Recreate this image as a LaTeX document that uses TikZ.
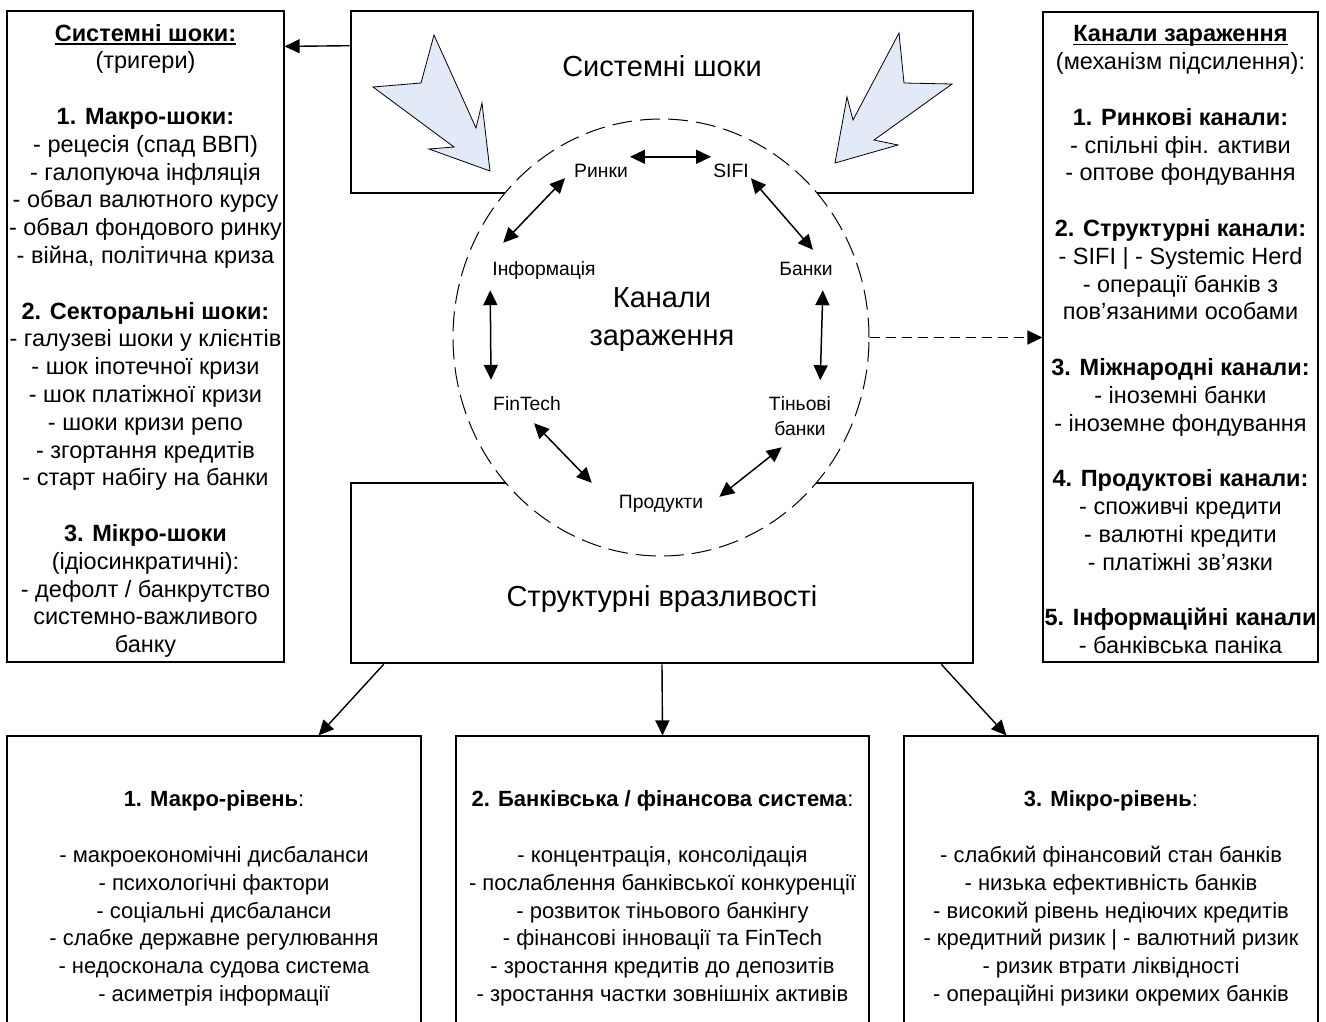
\documentclass[tikz,border=0pt]{standalone}
\usepackage{fontspec}
\setmainfont{Liberation Sans}
\usetikzlibrary{arrows.meta,shapes.geometric}

\definecolor{shockblue}{RGB}{226,234,247}
\newcommand{\ulhead}[1]{\leavevmode\setbox0\hbox{#1}\rlap{\rule[-3.5pt]{\wd0}{1.5pt}}\box0}

\begin{document}
\begin{tikzpicture}[x=1pt, y=-1pt, >={Triangle[length=15pt,width=14pt]},
    sidebox/.style={draw, line width=1.2pt, inner sep=0pt, align=center,
        font=\fontsize{23.5}{27.8}\selectfont},
    levelbox/.style={draw, line width=1.2pt, inner sep=0pt, align=center,
        minimum width=414pt, minimum height=325pt, font=\fontsize{22}{27.8}\selectfont},
    mainbox/.style={draw, line width=2.6pt, minimum width=622pt},
    big label/.style={font=\fontsize{29}{38}\selectfont, align=center},
    chan node/.style={font=\fontsize{19.3}{25}\selectfont, inner sep=2pt,
        text height=14pt, text depth=4pt},
    ring/.style={ellipse, draw, dash pattern=on 20pt off 8pt, line width=1pt,
        fill=white, inner sep=0pt, minimum width=416pt, minimum height=437pt},
    shock/.style={draw, line width=0.8pt, fill=shockblue, line join=miter},
    link/.style={<->, line width=1.5pt},
    arr/.style={->, line width=1.4pt},
    ]

\useasboundingbox (0,0) rectangle (1326,1021);
\clip (0,0) rectangle (1326,1021);

% side boxes
\node[sidebox, minimum width=277pt, minimum height=651pt] (triggers) at (145.5,336.5)
{\rule{0pt}{25.5pt}\ulhead{\textbf{Системні шоки:}}\\ (тригери)\\[27.8pt]
\textbf{1. Макро-шоки:}\\ - рецесія (спад ВВП)\\ - галопуюча інфляція\\
- обвал валютного курсу\\ - обвал фондового ринку\\ - війна, політична криза\\[27.8pt]
\textbf{2. Секторальні шоки:}\\ - галузеві шоки у клієнтів\\ - шок іпотечної кризи\\
- шок платіжної кризи\\ - шоки кризи репо\\ - згортання кредитів\\
- старт набігу на банки\\[27.8pt]
\textbf{3. Мікро-шоки}\\ (ідіосинкратичні):\\ - дефолт / банкрутство\\
системно-важливого\\ банку};

\node[sidebox, minimum width=275pt, minimum height=650pt] (channels) at (1180.5,337)
{\rule{0pt}{21.5pt}\ulhead{\textbf{Канали зараження}}\\ (механізм підсилення):\\[27.8pt]
\textbf{1. Ринкові канали:}\\ - спільні фін. активи\\ - оптове фондування\\[27.8pt]
\textbf{2. Структурні канали:}\\ - SIFI | - Systemic Herd\\ - операції банків з\\
пов’язаними особами\\[27.8pt]
\textbf{3. Міжнародні канали:}\\ - іноземні банки\\ - іноземне фондування\\[27.8pt]
\textbf{4. Продуктові канали:}\\ - споживчі кредити\\ - валютні кредити\\
- платіжні зв’язки\\[27.8pt]
\textbf{5. Інформаційні канали}\\ - банківська паніка};

% main boxes
\node[mainbox, minimum height=182pt] (shocks) at (662,102) {};
\node[big label] (shocks text) at (662,66) {Системні шоки};
\node[mainbox, minimum height=180pt] (vuln) at (662,573) {};
\node[big label] (vuln text) at (662,599) {Структурні вразливості};

% shock arrows
\draw[shock] (434,35) -- (476,128) -- (482,103) -- (490,171) -- (429,149)
    -- (454,147) -- (373,87) -- (421,83) -- cycle;
\draw[shock] (899,33) -- (853,120) -- (847,97) -- (835,163) -- (898,145)
    -- (874,140) -- (952,84) -- (904,83) -- cycle;

% contagion ring
\node[ring] (ring) at (661,337.5) {};
\node[big label] (ring text) at (662,320) {Канали\\зараження};

\node[chan node] (markets) at (601,172) {Ринки};
\node[chan node] (sifi) at (731,172) {SIFI};
\node[chan node] (info) at (544,270) {Інформація};
\node[chan node] (banks) at (806,270) {Банки};
\node[chan node] (fintech) at (527,405) {FinTech};
\node[font=\fontsize{19.3}{25}\selectfont, inner sep=2pt, align=center] (shadow) at (800,416) {Тіньові\\банки};
\node[chan node] (products) at (661,503) {Продукти};

\path
([yshift=4pt]markets.north east) edge [link] ([yshift=4pt]sifi.north west)
([xshift=-7pt,yshift=5pt]markets.south west) edge [link] ([xshift=13pt,yshift=16pt]info.north west)
([yshift=5pt]sifi.south east) edge [link] ([xshift=7pt,yshift=9pt]banks.north)
([yshift=-9pt]info.south west) edge [link] ([yshift=14pt]fintech.north west)
([xshift=-12pt,yshift=-9pt]banks.south east) edge [link] ([xshift=-13pt,yshift=14pt]shadow.north east)
([xshift=7pt,yshift=-7pt]fintech.south) edge [link] ([xshift=-25pt,yshift=9pt]products.north west)
([xshift=14pt,yshift=-5pt]products.north east) edge [link] ([xshift=15pt,yshift=-9.5pt]shadow.south west);

% level boxes
\node[levelbox] (macro) at (214,898.5)
{\textbf{1. Макро-рівень}:\\[27.8pt] - макроекономічні дисбаланси\\
- психологічні фактори\\ - соціальні дисбаланси\\ - слабке державне регулювання\\
- недосконала судова система\\ - асиметрія інформації};
\node[levelbox, minimum width=413pt] (banksys) at (662.5,898.5)
{\textbf{2. Банківська / фінансова система}:\\[27.8pt] - концентрація, консолідація\\
- послаблення банківської конкуренції\\ - розвиток тіньового банкінгу\\
- фінансові інновації та FinTech\\ - зростання кредитів до депозитів\\
- зростання частки зовнішніх активів};
\node[levelbox] (micro) at (1111,898.5)
{\textbf{3. Мікро-рівень}:\\[27.8pt] - слабкий фінансовий стан банків\\
- низька ефективність банків\\ - високий рівень недіючих кредитів\\
- кредитний ризик | - валютний ризик\\ - ризик втрати ліквідності\\
- операційні ризики окремих банків};

\path
([yshift=-36pt]shocks.north west) edge [arr] ([yshift=-36pt]triggers.north east)
(ring.east) edge [arr, dash pattern=on 10pt off 6pt] (ring.east -| channels.west)
([xshift=34pt]vuln.south west) edge [arr] ([xshift=-103pt]macro.north east)
(vuln.south) edge [arr] (banksys.north)
([xshift=-33pt]vuln.south east) edge [arr] ([xshift=103pt]micro.north west);

\end{tikzpicture}
\end{document}
